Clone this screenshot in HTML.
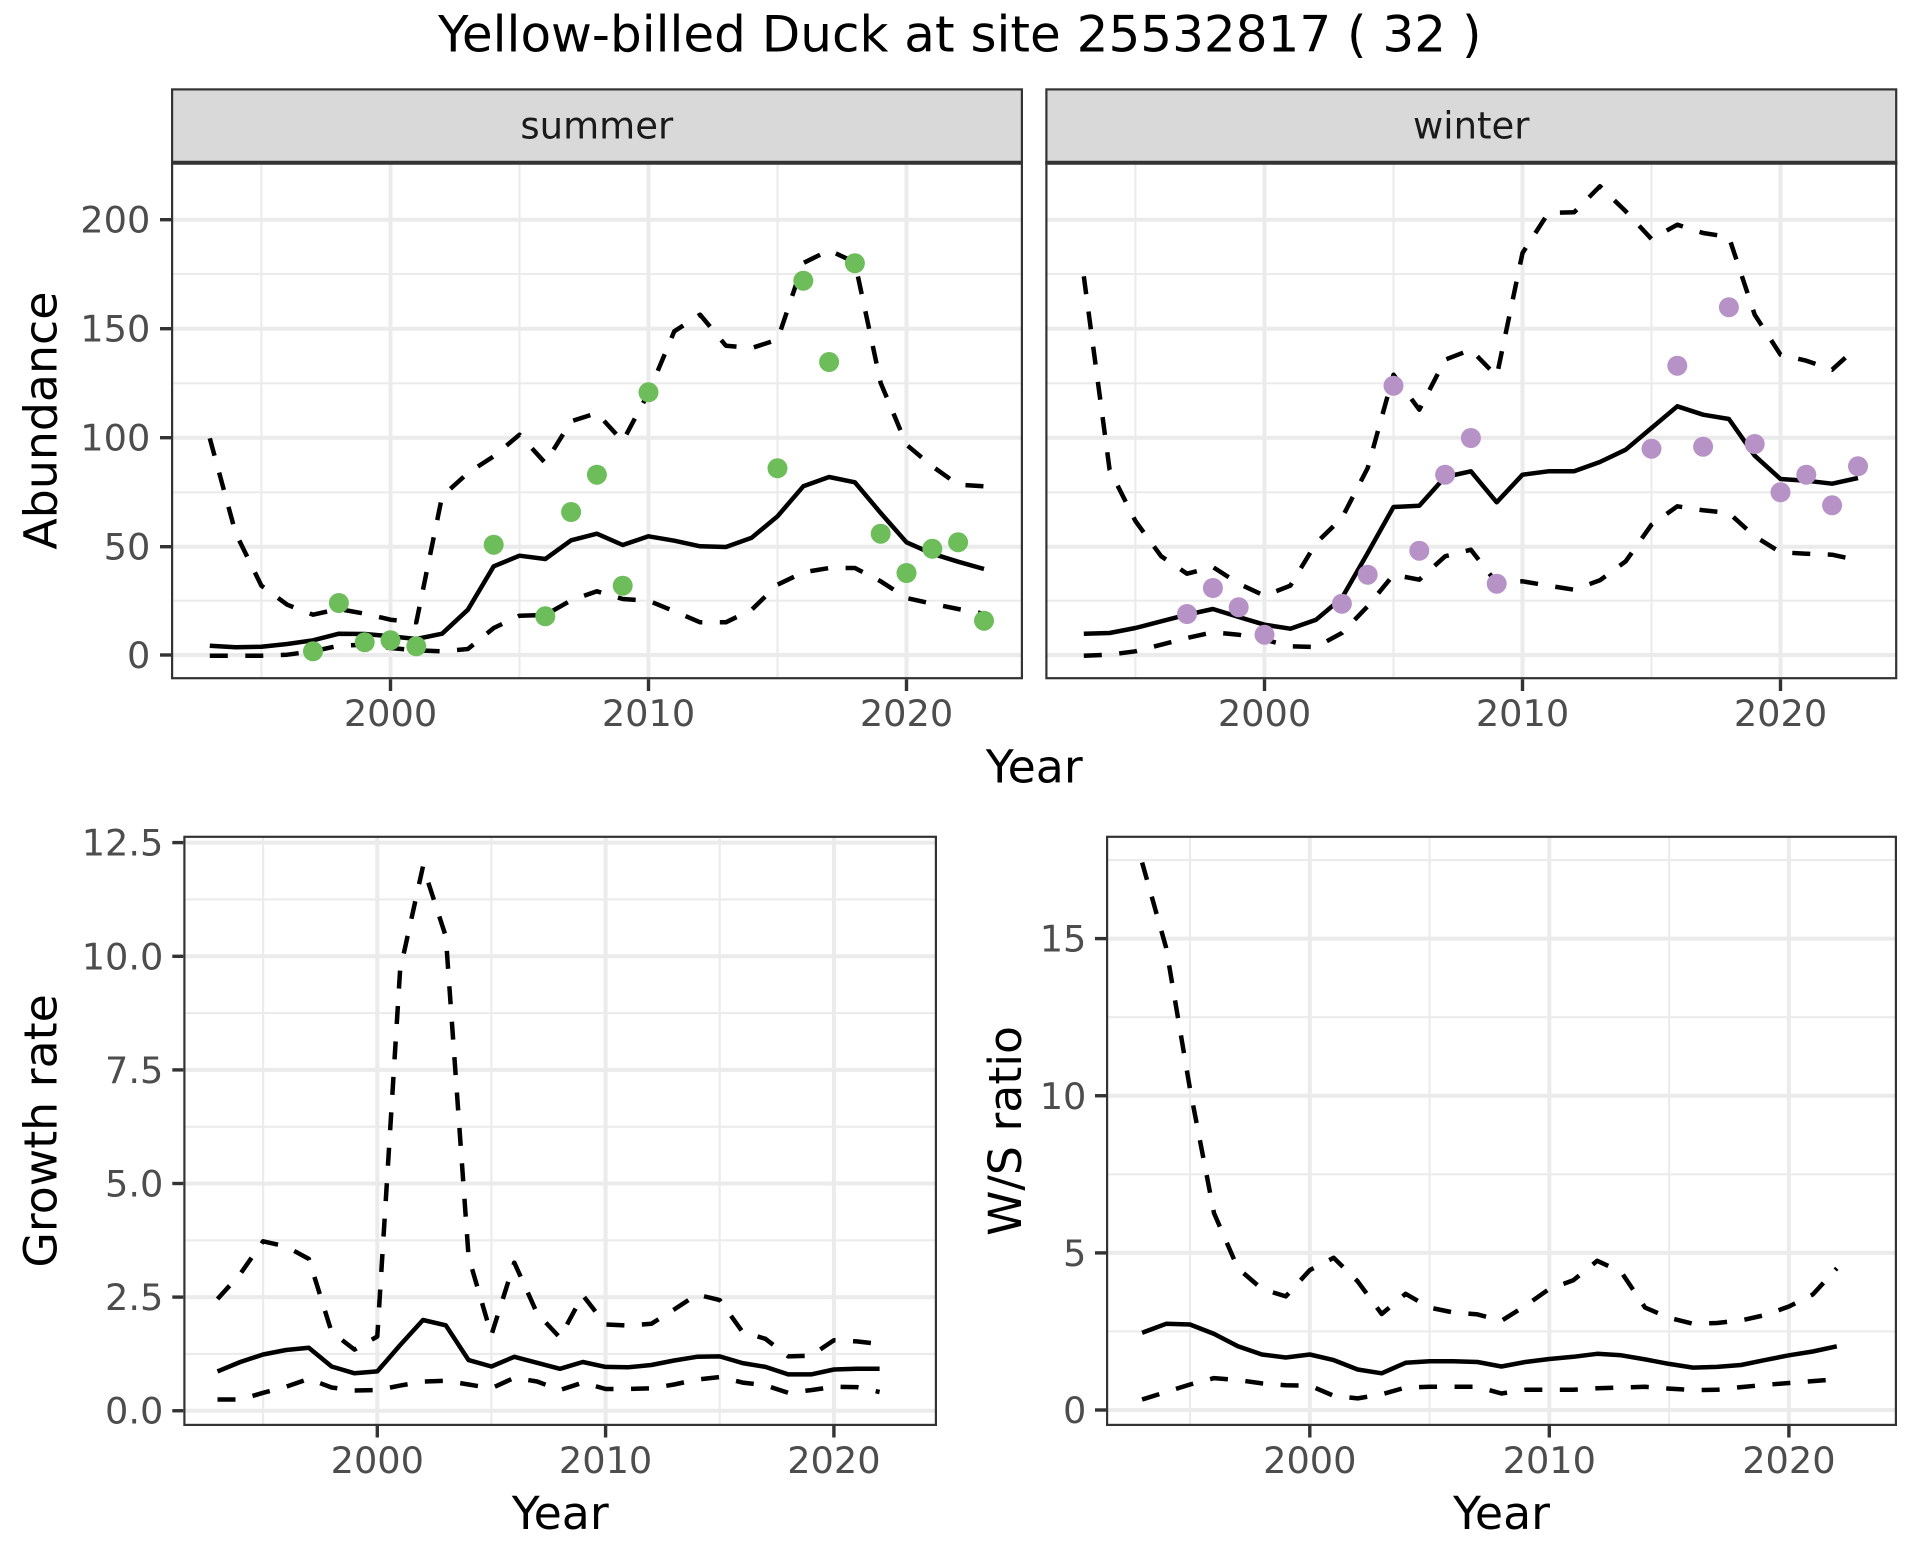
<!DOCTYPE html>
<html>
<head>
<meta charset="utf-8">
<style>
html,body{margin:0;padding:0;background:#fff;}
svg{display:block;}
text{font-family:"DejaVu Sans","Liberation Sans",sans-serif;}
.tk{font-size:36.7px;fill:#4D4D4D;}
.ax{font-size:45.8px;fill:#000;}
.st{font-size:37px;fill:#1A1A1A;}
.gmaj{stroke:#EBEBEB;stroke-width:4;}
.gmin{stroke:#EBEBEB;stroke-width:2.1;}
.tick{stroke:#333;stroke-width:3.4;}
.sol{fill:none;stroke:#000;stroke-width:4.5;stroke-linejoin:round;stroke-linecap:butt;}
.dsh{fill:none;stroke:#000;stroke-width:4.5;stroke-linejoin:round;stroke-linecap:butt;stroke-dasharray:18 17.5;}
.box{fill:none;stroke:#333;stroke-width:2.2;}
</style>
</head>
<body>
<svg width="1920" height="1560" viewBox="0 0 1920 1560" xmlns="http://www.w3.org/2000/svg">
<rect x="0" y="0" width="1920" height="1560" fill="#fff"/>

<!-- Title -->
<text x="438" y="51.7" font-size="50" fill="#000">Yellow-billed Duck at site 25532817 ( 32 )</text>

<!-- ================= SUMMER PANEL ================= -->
<rect x="172.1" y="89.4" width="849.8" height="73" fill="#D9D9D9" stroke="#333" stroke-width="2.2"/>
<text class="st" x="596.8" y="138.3" text-anchor="middle">summer</text>
<rect x="172.1" y="163" width="849.8" height="515.2" fill="#fff"/>
<g>
<line class="gmin" x1="172" x2="1022" y1="274.0" y2="274.0"/>
<line class="gmin" x1="172" x2="1022" y1="383.3" y2="383.3"/>
<line class="gmin" x1="172" x2="1022" y1="492.3" y2="492.3"/>
<line class="gmin" x1="172" x2="1022" y1="600.7" y2="600.7"/>
<line class="gmin" y1="163" y2="679" x1="261.4" x2="261.4"/>
<line class="gmin" y1="163" y2="679" x1="519.5" x2="519.5"/>
<line class="gmin" y1="163" y2="679" x1="777.5" x2="777.5"/>
<line class="gmaj" x1="172" x2="1022" y1="219.7" y2="219.7"/>
<line class="gmaj" x1="172" x2="1022" y1="328.7" y2="328.7"/>
<line class="gmaj" x1="172" x2="1022" y1="437.7" y2="437.7"/>
<line class="gmaj" x1="172" x2="1022" y1="546.7" y2="546.7"/>
<line class="gmaj" x1="172" x2="1022" y1="655.0" y2="655.0"/>
<line class="gmaj" y1="163" y2="679" x1="390.5" x2="390.5"/>
<line class="gmaj" y1="163" y2="679" x1="648.5" x2="648.5"/>
<line class="gmaj" y1="163" y2="679" x1="906.5" x2="906.5"/>
</g>
<polyline class="sol" points="209.8,645.7 235.6,647.3 261.4,646.7 287.2,644.0 313.0,640.3 338.9,633.7 364.7,634.0 390.5,636.3 416.3,639.0 442.1,633.7 467.9,609.7 493.7,566.3 519.5,555.7 545.3,559.0 571.1,540.3 596.9,533.7 622.7,545.0 648.5,536.3 674.3,540.7 700.1,546.3 725.9,547.0 751.7,537.7 777.5,516.3 803.3,486.3 829.1,477.0 854.9,482.3 880.7,513.0 906.5,542.3 932.3,553.7 958.1,561.7 984.0,569.0"/>
<polyline class="dsh" points="209.8,438.3 235.6,533.0 261.4,585.7 287.2,604.7 313.0,614.7 338.9,609.0 364.7,613.7 390.5,619.7 416.3,622.3 442.1,496.3 467.9,473.0 493.7,456.3 519.5,434.7 545.3,463.0 571.1,421.3 596.9,413.0 622.7,441.3 648.5,393.0 674.3,331.3 700.1,314.7 725.9,345.7 751.7,348.0 777.5,339.7 803.3,263.0 829.1,250.3 854.9,262.3 880.7,383.0 906.5,444.7 932.3,466.3 958.1,484.7 984.0,486.3"/>
<polyline class="dsh" points="209.8,655.7 235.6,655.7 261.4,655.7 287.2,654.7 313.0,651.3 338.9,645.7 364.7,644.7 390.5,648.0 416.3,650.3 442.1,651.3 467.9,649.0 493.7,628.0 519.5,615.7 545.3,615.0 571.1,600.3 596.9,591.3 622.7,599.0 648.5,600.7 674.3,611.3 700.1,622.3 725.9,622.3 751.7,609.7 777.5,584.7 803.3,572.3 829.1,568.0 854.9,568.0 880.7,581.3 906.5,598.0 932.3,603.7 958.1,609.0 984.0,613.7"/>
<g fill="#6DBE5B">
<circle cx="313.0" cy="651.3" r="10"/>
<circle cx="338.9" cy="603.0" r="10"/>
<circle cx="364.7" cy="642.3" r="10"/>
<circle cx="390.5" cy="640.3" r="10"/>
<circle cx="416.3" cy="646.3" r="10"/>
<circle cx="493.7" cy="544.7" r="10"/>
<circle cx="545.3" cy="616.3" r="10"/>
<circle cx="571.1" cy="512.0" r="10"/>
<circle cx="596.9" cy="474.7" r="10"/>
<circle cx="622.7" cy="585.7" r="10"/>
<circle cx="648.5" cy="392.3" r="10"/>
<circle cx="777.5" cy="468.3" r="10"/>
<circle cx="803.3" cy="280.7" r="10"/>
<circle cx="829.1" cy="362.0" r="10"/>
<circle cx="854.9" cy="263.3" r="10"/>
<circle cx="880.7" cy="533.7" r="10"/>
<circle cx="906.5" cy="573.0" r="10"/>
<circle cx="932.3" cy="548.7" r="10"/>
<circle cx="958.1" cy="542.3" r="10"/>
<circle cx="984.0" cy="620.7" r="10"/>
</g>
<rect class="box" x="172.1" y="163" width="849.8" height="515.2"/>
<line x1="171" x2="1023" y1="162.8" y2="162.8" stroke="#333" stroke-width="4"/>

<!-- ================= WINTER PANEL ================= -->
<rect x="1046.4" y="89.4" width="849.8" height="73" fill="#D9D9D9" stroke="#333" stroke-width="2.2"/>
<text class="st" x="1471.3" y="138.3" text-anchor="middle">winter</text>
<rect x="1046.4" y="163" width="849.8" height="515.2" fill="#fff"/>
<g>
<line class="gmin" x1="1046" x2="1896" y1="274.0" y2="274.0"/>
<line class="gmin" x1="1046" x2="1896" y1="383.3" y2="383.3"/>
<line class="gmin" x1="1046" x2="1896" y1="492.3" y2="492.3"/>
<line class="gmin" x1="1046" x2="1896" y1="600.7" y2="600.7"/>
<line class="gmin" y1="163" y2="679" x1="1135.4" x2="1135.4"/>
<line class="gmin" y1="163" y2="679" x1="1393.5" x2="1393.5"/>
<line class="gmin" y1="163" y2="679" x1="1651.5" x2="1651.5"/>
<line class="gmaj" x1="1046" x2="1896" y1="219.7" y2="219.7"/>
<line class="gmaj" x1="1046" x2="1896" y1="328.7" y2="328.7"/>
<line class="gmaj" x1="1046" x2="1896" y1="437.7" y2="437.7"/>
<line class="gmaj" x1="1046" x2="1896" y1="546.7" y2="546.7"/>
<line class="gmaj" x1="1046" x2="1896" y1="655.0" y2="655.0"/>
<line class="gmaj" y1="163" y2="679" x1="1264.5" x2="1264.5"/>
<line class="gmaj" y1="163" y2="679" x1="1522.5" x2="1522.5"/>
<line class="gmaj" y1="163" y2="679" x1="1780.5" x2="1780.5"/>
</g>
<polyline class="sol" points="1083.8,633.7 1109.6,633.0 1135.4,628.0 1161.2,621.3 1187.0,614.7 1212.9,609.0 1238.7,617.0 1264.5,624.7 1290.3,628.7 1316.1,619.7 1341.9,598.0 1367.7,553.0 1393.5,507.0 1419.3,505.7 1445.1,477.0 1470.9,471.3 1496.7,502.3 1522.5,474.7 1548.3,471.3 1574.1,471.3 1599.9,462.0 1625.7,449.7 1651.5,428.0 1677.3,406.3 1703.1,414.7 1728.9,419.0 1754.7,455.7 1780.5,479.0 1806.3,480.7 1832.1,483.7 1858.0,478.0"/>
<polyline class="dsh" points="1083.8,276.3 1109.6,469.7 1135.4,521.0 1161.2,556.3 1187.0,573.7 1212.9,567.0 1238.7,583.7 1264.5,595.7 1290.3,585.7 1316.1,543.0 1341.9,518.0 1367.7,468.0 1393.5,374.7 1419.3,409.7 1445.1,359.7 1470.9,349.7 1496.7,376.3 1522.5,253.0 1548.3,213.0 1574.1,212.3 1599.9,186.3 1625.7,211.3 1651.5,239.0 1677.3,224.7 1703.1,233.0 1728.9,237.0 1754.7,314.7 1780.5,354.7 1806.3,360.7 1832.1,369.7 1858.0,346.3"/>
<polyline class="dsh" points="1083.8,655.7 1109.6,654.7 1135.4,651.3 1161.2,644.7 1187.0,638.0 1212.9,632.3 1238.7,634.7 1264.5,639.7 1290.3,646.3 1316.1,647.0 1341.9,633.0 1367.7,606.3 1393.5,574.7 1419.3,579.7 1445.1,556.3 1470.9,549.7 1496.7,583.0 1522.5,581.3 1548.3,585.7 1574.1,589.7 1599.9,580.3 1625.7,561.3 1651.5,524.7 1677.3,506.3 1703.1,510.3 1728.9,513.0 1754.7,536.3 1780.5,552.3 1806.3,553.7 1832.1,554.7 1858.0,560.3"/>
<g fill="#B792C7">
<circle cx="1187.0" cy="614.0" r="10"/>
<circle cx="1212.9" cy="588.0" r="10"/>
<circle cx="1238.7" cy="607.3" r="10"/>
<circle cx="1264.5" cy="634.7" r="10"/>
<circle cx="1341.9" cy="603.7" r="10"/>
<circle cx="1367.7" cy="574.7" r="10"/>
<circle cx="1393.5" cy="385.7" r="10"/>
<circle cx="1419.3" cy="550.7" r="10"/>
<circle cx="1445.1" cy="474.7" r="10"/>
<circle cx="1470.9" cy="438.0" r="10"/>
<circle cx="1496.7" cy="583.7" r="10"/>
<circle cx="1651.5" cy="448.7" r="10"/>
<circle cx="1677.3" cy="365.7" r="10"/>
<circle cx="1703.1" cy="446.7" r="10"/>
<circle cx="1728.9" cy="307.3" r="10"/>
<circle cx="1754.7" cy="444.0" r="10"/>
<circle cx="1780.5" cy="492.3" r="10"/>
<circle cx="1806.3" cy="474.7" r="10"/>
<circle cx="1832.1" cy="505.3" r="10"/>
<circle cx="1858.0" cy="466.3" r="10"/>
</g>
<rect class="box" x="1046.4" y="163" width="849.8" height="515.2"/>
<line x1="1045.3" x2="1897.3" y1="162.8" y2="162.8" stroke="#333" stroke-width="4"/>

<!-- Top axes ticks & labels -->
<g>
<line class="tick" x1="160" x2="171" y1="219.7" y2="219.7"/>
<line class="tick" x1="160" x2="171" y1="328.7" y2="328.7"/>
<line class="tick" x1="160" x2="171" y1="437.7" y2="437.7"/>
<line class="tick" x1="160" x2="171" y1="546.7" y2="546.7"/>
<line class="tick" x1="160" x2="171" y1="655.0" y2="655.0"/>
<line class="tick" y1="679.3" y2="691" x1="390.5" x2="390.5"/>
<line class="tick" y1="679.3" y2="691" x1="648.5" x2="648.5"/>
<line class="tick" y1="679.3" y2="691" x1="906.5" x2="906.5"/>
<line class="tick" y1="679.3" y2="691" x1="1264.5" x2="1264.5"/>
<line class="tick" y1="679.3" y2="691" x1="1522.5" x2="1522.5"/>
<line class="tick" y1="679.3" y2="691" x1="1780.5" x2="1780.5"/>
</g>
<text class="tk" x="150.3" y="232.7" text-anchor="end">200</text>
<text class="tk" x="150.3" y="341.7" text-anchor="end">150</text>
<text class="tk" x="150.3" y="450.7" text-anchor="end">100</text>
<text class="tk" x="150.3" y="559.7" text-anchor="end">50</text>
<text class="tk" x="150.3" y="668.0" text-anchor="end">0</text>
<text class="tk" x="390.5" y="726" text-anchor="middle">2000</text>
<text class="tk" x="648.5" y="726" text-anchor="middle">2010</text>
<text class="tk" x="906.5" y="726" text-anchor="middle">2020</text>
<text class="tk" x="1264.5" y="726" text-anchor="middle">2000</text>
<text class="tk" x="1522.5" y="726" text-anchor="middle">2010</text>
<text class="tk" x="1780.5" y="726" text-anchor="middle">2020</text>
<text class="ax" x="1034.2" y="782.3" text-anchor="middle">Year</text>
<text class="ax" transform="translate(56.5,420.6) rotate(-90)" text-anchor="middle">Abundance</text>

<!-- ================= GROWTH PANEL ================= -->
<rect x="184.4" y="836.8" width="751.5" height="588.1" fill="#fff"/>
<g>
<line class="gmin" x1="184" x2="936" y1="1353.9" y2="1353.9"/>
<line class="gmin" x1="184" x2="936" y1="1240.3" y2="1240.3"/>
<line class="gmin" x1="184" x2="936" y1="1126.7" y2="1126.7"/>
<line class="gmin" x1="184" x2="936" y1="1013.1" y2="1013.1"/>
<line class="gmin" x1="184" x2="936" y1="899.4" y2="899.4"/>
<line class="gmin" y1="837" y2="1425" x1="263.1" x2="263.1"/>
<line class="gmin" y1="837" y2="1425" x1="491.4" x2="491.4"/>
<line class="gmin" y1="837" y2="1425" x1="719.7" x2="719.7"/>
<line class="gmaj" x1="184" x2="936" y1="1410.75" y2="1410.75"/>
<line class="gmaj" x1="184" x2="936" y1="1297.1" y2="1297.1"/>
<line class="gmaj" x1="184" x2="936" y1="1183.5" y2="1183.5"/>
<line class="gmaj" x1="184" x2="936" y1="1069.9" y2="1069.9"/>
<line class="gmaj" x1="184" x2="936" y1="956.3" y2="956.3"/>
<line class="gmaj" x1="184" x2="936" y1="842.6" y2="842.6"/>
<line class="gmaj" y1="837" y2="1425" x1="377.3" x2="377.3"/>
<line class="gmaj" y1="837" y2="1425" x1="605.6" x2="605.6"/>
<line class="gmaj" y1="837" y2="1425" x1="833.9" x2="833.9"/>
</g>
<polyline class="sol" points="217.5,1371.4 240.3,1362.0 263.1,1354.5 286.0,1350.0 308.8,1347.8 331.6,1366.5 354.5,1373.3 377.3,1371.4 400.1,1345.1 423.0,1320.0 445.8,1325.3 468.6,1360.1 491.4,1366.5 514.3,1356.8 537.1,1362.8 559.9,1368.8 582.8,1362.0 605.6,1366.9 628.4,1367.3 651.3,1365.0 674.1,1360.5 696.9,1356.8 719.7,1356.4 742.6,1363.1 765.4,1366.9 788.2,1374.4 811.1,1374.4 833.9,1369.5 856.7,1368.8 879.6,1368.8"/>
<polyline class="dsh" points="217.5,1299.0 240.3,1273.9 263.1,1241.3 286.0,1246.5 308.8,1258.9 331.6,1332.0 354.5,1349.6 377.3,1336.5 400.1,970.1 423.0,866.3 445.8,936.4 468.6,1257.0 491.4,1335.0 514.3,1262.6 537.1,1313.3 559.9,1337.6 582.8,1295.3 605.6,1324.5 628.4,1325.6 651.3,1323.8 674.1,1309.5 696.9,1294.5 719.7,1300.1 742.6,1332.0 765.4,1338.8 788.2,1356.4 811.1,1355.6 833.9,1340.3 856.7,1341.4 879.6,1344.0"/>
<polyline class="dsh" points="217.5,1399.5 240.3,1399.5 263.1,1392.8 286.0,1386.8 308.8,1378.9 331.6,1387.5 354.5,1390.5 377.3,1390.1 400.1,1385.6 423.0,1381.5 445.8,1380.8 468.6,1384.5 491.4,1388.3 514.3,1377.8 537.1,1381.5 559.9,1390.1 582.8,1382.6 605.6,1389.0 628.4,1389.0 651.3,1388.3 674.1,1384.5 696.9,1379.6 719.7,1377.0 742.6,1382.6 765.4,1385.3 788.2,1392.8 811.1,1390.1 833.9,1386.8 856.7,1387.1 879.6,1392.0"/>
<rect class="box" x="184.4" y="836.8" width="751.5" height="588.1"/>
<g>
<line class="tick" x1="172.3" x2="183.3" y1="1410.75" y2="1410.75"/>
<line class="tick" x1="172.3" x2="183.3" y1="1297.1" y2="1297.1"/>
<line class="tick" x1="172.3" x2="183.3" y1="1183.5" y2="1183.5"/>
<line class="tick" x1="172.3" x2="183.3" y1="1069.9" y2="1069.9"/>
<line class="tick" x1="172.3" x2="183.3" y1="956.3" y2="956.3"/>
<line class="tick" x1="172.3" x2="183.3" y1="842.6" y2="842.6"/>
<line class="tick" y1="1426" y2="1437.5" x1="377.3" x2="377.3"/>
<line class="tick" y1="1426" y2="1437.5" x1="605.6" x2="605.6"/>
<line class="tick" y1="1426" y2="1437.5" x1="833.9" x2="833.9"/>
</g>
<text class="tk" x="163.4" y="1423.7" text-anchor="end">0.0</text>
<text class="tk" x="163.4" y="1310.1" text-anchor="end">2.5</text>
<text class="tk" x="163.4" y="1196.5" text-anchor="end">5.0</text>
<text class="tk" x="163.4" y="1082.9" text-anchor="end">7.5</text>
<text class="tk" x="163.4" y="969.3" text-anchor="end">10.0</text>
<text class="tk" x="163.4" y="855.6" text-anchor="end">12.5</text>
<text class="tk" x="377.3" y="1473" text-anchor="middle">2000</text>
<text class="tk" x="605.6" y="1473" text-anchor="middle">2010</text>
<text class="tk" x="833.9" y="1473" text-anchor="middle">2020</text>
<text class="ax" x="560.2" y="1529" text-anchor="middle">Year</text>
<text class="ax" transform="translate(56.5,1130.9) rotate(-90)" text-anchor="middle">Growth rate</text>

<!-- ================= W/S PANEL ================= -->
<rect x="1107.1" y="836.8" width="788.8" height="588.1" fill="#fff"/>
<g>
<line class="gmin" x1="1107" x2="1896" y1="1331.4" y2="1331.4"/>
<line class="gmin" x1="1107" x2="1896" y1="1174.3" y2="1174.3"/>
<line class="gmin" x1="1107" x2="1896" y1="1017.2" y2="1017.2"/>
<line class="gmin" x1="1107" x2="1896" y1="860.1" y2="860.1"/>
<line class="gmin" y1="837" y2="1425" x1="1190.0" x2="1190.0"/>
<line class="gmin" y1="837" y2="1425" x1="1429.6" x2="1429.6"/>
<line class="gmin" y1="837" y2="1425" x1="1669.1" x2="1669.1"/>
<line class="gmaj" x1="1107" x2="1896" y1="1410" y2="1410"/>
<line class="gmaj" x1="1107" x2="1896" y1="1252.9" y2="1252.9"/>
<line class="gmaj" x1="1107" x2="1896" y1="1095.75" y2="1095.75"/>
<line class="gmaj" x1="1107" x2="1896" y1="938.6" y2="938.6"/>
<line class="gmaj" y1="837" y2="1425" x1="1309.8" x2="1309.8"/>
<line class="gmaj" y1="837" y2="1425" x1="1549.3" x2="1549.3"/>
<line class="gmaj" y1="837" y2="1425" x1="1788.9" x2="1788.9"/>
</g>
<polyline class="sol" points="1142.1,1332.8 1166.1,1323.8 1190.0,1324.5 1214.0,1333.9 1237.9,1346.3 1261.9,1354.5 1285.8,1357.5 1309.8,1354.5 1333.7,1360.1 1357.7,1369.5 1381.7,1373.3 1405.6,1362.8 1429.6,1361.3 1453.5,1361.3 1477.5,1362.0 1501.4,1366.5 1525.4,1362.0 1549.3,1359.0 1573.3,1356.8 1597.2,1353.8 1621.2,1355.3 1645.1,1359.4 1669.1,1363.9 1693.0,1367.6 1717.0,1366.9 1741.0,1365.0 1764.9,1360.1 1788.9,1355.3 1812.8,1351.5 1836.8,1346.3"/>
<polyline class="dsh" points="1142.1,862.5 1166.1,947.6 1190.0,1089.0 1214.0,1213.1 1237.9,1268.3 1261.9,1288.9 1285.8,1296.4 1309.8,1270.1 1333.7,1257.8 1357.7,1281.4 1381.7,1314.0 1405.6,1293.8 1429.6,1307.6 1453.5,1312.5 1477.5,1314.4 1501.4,1320.8 1525.4,1305.8 1549.3,1288.9 1573.3,1280.3 1597.2,1260.8 1621.2,1272.0 1645.1,1307.6 1669.1,1317.8 1693.0,1323.8 1717.0,1323.0 1741.0,1320.4 1764.9,1315.1 1788.9,1306.5 1812.8,1294.5 1836.8,1268.3"/>
<polyline class="dsh" points="1142.1,1399.5 1166.1,1392.0 1190.0,1384.5 1214.0,1378.1 1237.9,1380.0 1261.9,1383.4 1285.8,1385.3 1309.8,1385.6 1333.7,1395.8 1357.7,1398.4 1381.7,1394.3 1405.6,1387.5 1429.6,1386.8 1453.5,1386.8 1477.5,1386.8 1501.4,1393.5 1525.4,1389.8 1549.3,1389.8 1573.3,1389.8 1597.2,1388.3 1621.2,1387.5 1645.1,1386.8 1669.1,1388.6 1693.0,1390.1 1717.0,1389.8 1741.0,1387.1 1764.9,1384.9 1788.9,1383.0 1812.8,1381.1 1836.8,1379.3"/>
<rect class="box" x="1107.1" y="836.8" width="788.8" height="588.1"/>
<g>
<line class="tick" x1="1095" x2="1106" y1="1410" y2="1410"/>
<line class="tick" x1="1095" x2="1106" y1="1252.9" y2="1252.9"/>
<line class="tick" x1="1095" x2="1106" y1="1095.75" y2="1095.75"/>
<line class="tick" x1="1095" x2="1106" y1="938.6" y2="938.6"/>
<line class="tick" y1="1426" y2="1437.5" x1="1309.8" x2="1309.8"/>
<line class="tick" y1="1426" y2="1437.5" x1="1549.3" x2="1549.3"/>
<line class="tick" y1="1426" y2="1437.5" x1="1788.9" x2="1788.9"/>
</g>
<text class="tk" x="1086.4" y="1423" text-anchor="end">0</text>
<text class="tk" x="1086.4" y="1265.9" text-anchor="end">5</text>
<text class="tk" x="1086.4" y="1108.75" text-anchor="end">10</text>
<text class="tk" x="1086.4" y="951.6" text-anchor="end">15</text>
<text class="tk" x="1309.8" y="1473" text-anchor="middle">2000</text>
<text class="tk" x="1549.3" y="1473" text-anchor="middle">2010</text>
<text class="tk" x="1788.9" y="1473" text-anchor="middle">2020</text>
<text class="ax" x="1501.5" y="1529" text-anchor="middle">Year</text>
<text class="ax" transform="translate(1021,1130.9) rotate(-90)" text-anchor="middle">W/S ratio</text>
</svg>
</body>
</html>
